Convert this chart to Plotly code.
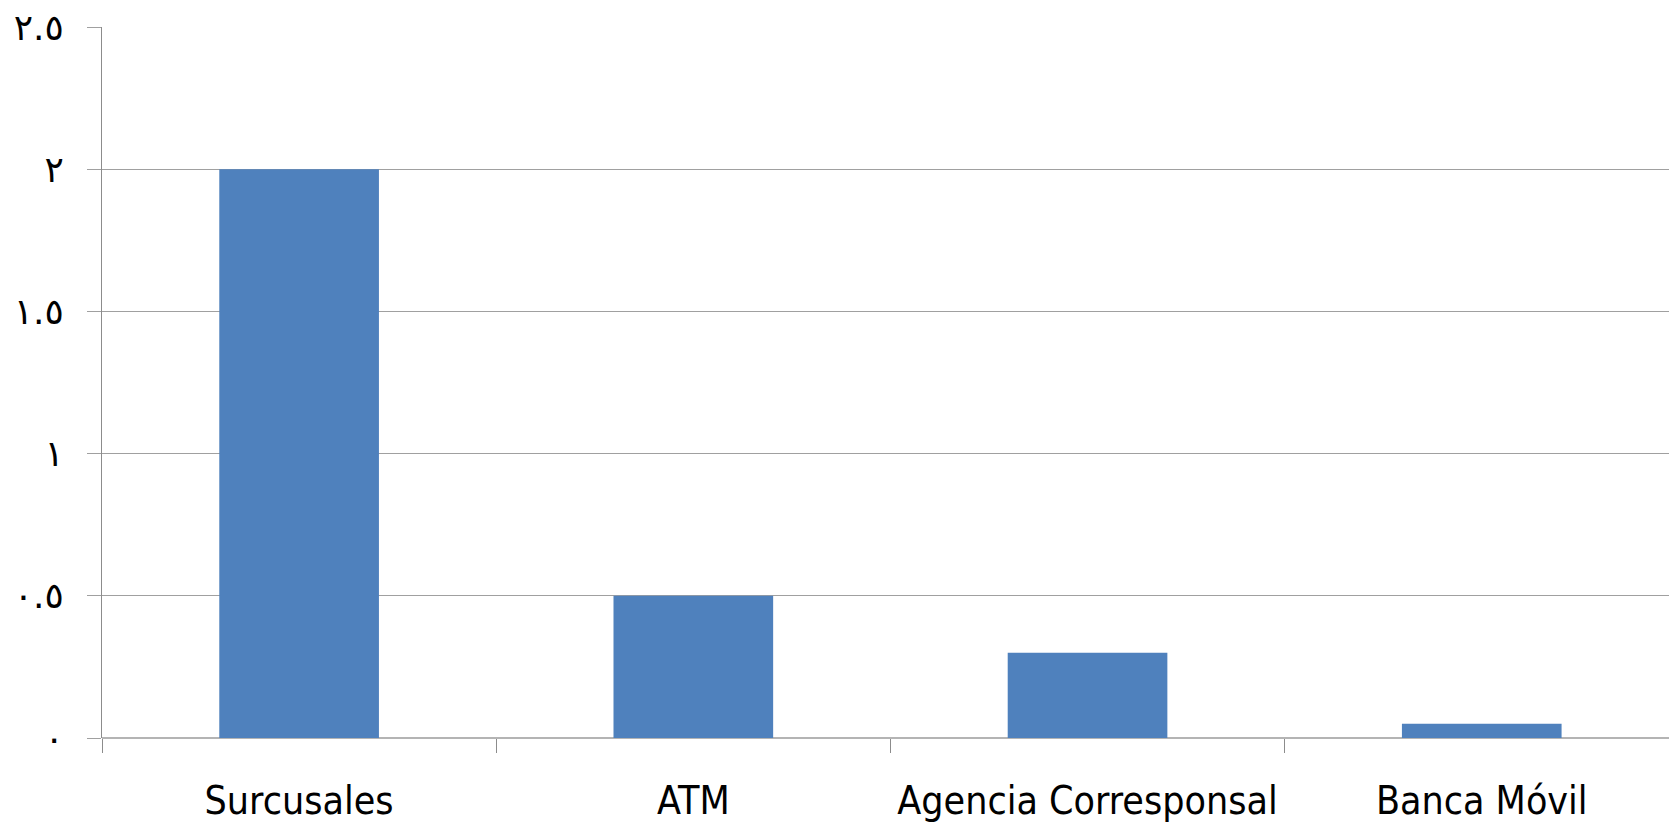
import plotly.graph_objects as go

categories = ["Surcusales", "ATM", "Agencia Corresponsal", "Banca Móvil"]
values = [2, 0.5, 0.3, 0.05]
tick_vals = [0, 0.5, 1, 1.5, 2, 2.5]
tick_text = ["٠", "٠.٥", "١", "١.٥", "٢", "٢.٥"]

fig = go.Figure(go.Bar(
    x=categories, y=values, width=0.405,
    marker=dict(color="#4F81BD", line=dict(width=0)),
))

fig.update_layout(
    width=1669, height=827,
    margin=dict(l=102, r=0, t=27, b=89, pad=0, autoexpand=False),
    paper_bgcolor="white", plot_bgcolor="white",
    showlegend=False,
    font=dict(family="DejaVu Sans Condensed, DejaVu Sans", color="black"),
)
fig.update_xaxes(
    range=[-0.5, 3.475], automargin=False,
    tickson="boundaries", ticks="outside", ticklen=14, tickcolor="#8c8c8c", tickwidth=1,
    showline=False, showgrid=False,
    tickfont=dict(size=39, family="DejaVu Sans Condensed, DejaVu Sans"),
    ticklabelstandoff=36, ticklabeloverflow="allow",
)
fig.update_yaxes(
    range=[0, 2.5], tickvals=tick_vals, ticktext=tick_text, automargin=False,
    ticks="outside", ticklen=14, tickcolor="#a0a0a0", tickwidth=1,
    showgrid=True, gridcolor="#a0a0a0", gridwidth=1,
    zeroline=True, zerolinecolor="#b4b4b4", zerolinewidth=2,
    showline=True, linecolor="#8c8c8c", linewidth=1,
    tickfont=dict(size=36, family="DejaVu Sans"),
    ticklabelstandoff=16, ticklabeloverflow="allow",
)
fig.write_html(
    "out.html",
    config={"displayModeBar": False},
    default_width="1669px", default_height="827px",
    post_script="document.body.style.margin='0';document.body.style.overflow='hidden';",
)
